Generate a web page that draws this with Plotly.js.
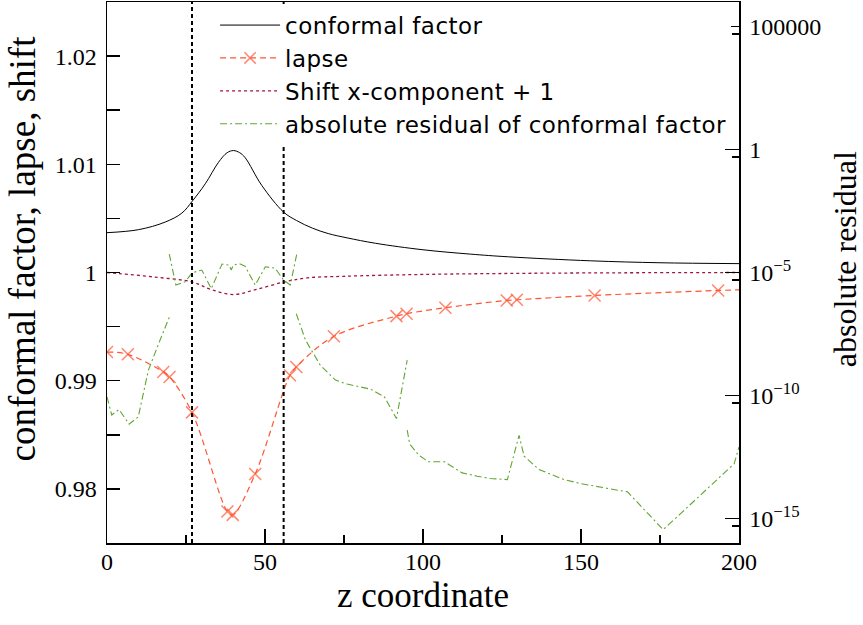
<!DOCTYPE html>
<html>
<head>
<meta charset="utf-8">
<script src="https://cdn.plot.ly/plotly-3.0.1.min.js"></script>
<style>html,body{margin:0;padding:0;background:#fff;}#chart{width:863px;height:625px;}.legendtext{letter-spacing:0.45px;}</style>
</head>
<body>
<div id="chart"></div>
<script>
// conformal factor
var zConf = [0, 10, 18.4, 23.7, 27, 31.1, 35.3, 38, 40, 42, 43.7, 49, 55.9, 60, 65, 70, 76, 85, 100, 115, 127, 153, 175, 200];
var conf  = [1.00368, 1.00396, 1.00466, 1.00549, 1.0066, 1.0082, 1.01019, 1.01107, 1.01127, 1.01107, 1.01062, 1.00804, 1.00558, 1.0048, 1.0041, 1.0036, 1.0032, 1.0027, 1.0021, 1.0017, 1.00145, 1.00108, 1.0009, 1.00082];

// lapse (marked points)
var zLapse = [0, 6.6, 17.8, 19.8, 26.9, 38.1, 39.8, 46.9, 57.9, 59.9, 71.8, 91.6, 94.8, 107.1, 126.5, 129.7, 154.3, 193.4, 200];
var lapse  = [0.99265, 0.99244, 0.99081, 0.99035, 0.98707, 0.97791, 0.97760, 0.98138, 0.99051, 0.99127, 0.99410, 0.99597, 0.99619, 0.99675, 0.99742, 0.99748, 0.99788, 0.99834, 0.99840];
var lapseMarked = [1,1,1,1,1,1,1,1,1,1,1,1,1,1,1,1,1,1,0];

// shift x-component + 1
var zShift = [0, 4, 15, 27, 33, 40, 47, 56, 63, 75, 100, 130, 160, 200];
var shift  = [1.0, 0.9999, 0.99958, 0.99912, 0.99842, 0.99796, 0.99842, 0.99912, 0.99949, 0.99965, 0.99982, 0.99992, 0.99997, 1.0];

// absolute residual of conformal factor (null = gap)
var zRes = [0, 1.5, 3.8, 7.0, 9.9, 13.1, 16.8, 20.0, null,
            19.7, 21.8, 24.7, 27.0, 30.0, 33.0, 36.4, 38.7, 39.3, 40.0, 41.8, 43.7, 46.9, 50.1, 53.2, 55.9, 58.0, 60.1, null,
            59.9, 62.8, 67.5, 72.3, 76.0, 83.4, 87.8, 91.6, 95.0, null,
            95.0, 95.8, 98.7, 101.8, 106.8, 112.4, 117.2, 121.2, 126.7, 130.4, 132.0, 136.7, 144.6, 149.9, 164.7, 176.0, 181.6, 198.5, 200];
var res  = [8.7e-11, 1.6e-11, 2.7e-11, 6.8e-12, 1.35e-11, 1.07e-9, 1.8e-8, 1.86e-7, null,
            5.6e-5, 3.1e-6, 4.2e-6, 9.8e-6, 1.26e-5, 2.2e-6, 2.2e-5, 2.0e-5, 1.26e-5, 2.0e-5, 2.3e-5, 1.8e-5, 3.1e-6, 1.7e-5, 1.5e-5, 4.9e-6, 3.1e-6, 6.0e-5, null,
            2.1e-7, 1.8e-8, 1.7e-9, 4.2e-10, 2.9e-10, 1.8e-10, 8.7e-11, 1.15e-11, 2.75e-9, null,
            3.9e-12, 1.05e-12, 3.7e-13, 2.0e-13, 2.0e-13, 7.1e-14, 5.2e-14, 4.2e-14, 3.8e-14, 2.4e-12, 3.4e-13, 9.8e-14, 3.8e-14, 2.6e-14, 1.2e-14, 3.5e-16, 1.6e-15, 1.7e-13, 8.1e-13];

// boundaries (vertical dashed lines)
var boundaries = [26.9, 55.9];

// ticks
var xTicks = [0, 50, 100, 150, 200];
var xMinor = [25, 75, 125, 175];
var yTicks = [0.98, 0.99, 1.0, 1.01, 1.02];
var yTickText = ['0.98', '0.99', '1', '1.01', '1.02'];
var y2Ticks = [1e-15, 1e-10, 1e-5, 1, 1e5];
var y2TickText = ['10<sup>\u221215</sup>', '10<sup>\u221210</sup>', '10<sup>\u22125</sup>', '1', '100000'];
var y2Minor = [5e-16, 5e-11, 5e-6, 0.5, 5e4];

var serif = '"Liberation Serif", "Times New Roman", "DejaVu Serif", serif';
var sans = '"DejaVu Sans", sans-serif';
var lapseColor = '#ff5533';

var traces = [
  {x: zConf, y: conf, name: 'conformal factor', mode: 'lines', type: 'scatter',
   line: {color: '#000000', width: 1, shape: 'spline'}},
  {x: zLapse, y: lapse, name: 'lapse', mode: 'lines+markers', type: 'scatter',
   line: {color: lapseColor, width: 1.2, dash: '6px,4px', shape: 'spline'},
   marker: {symbol: 'x-thin', size: lapseMarked.map(function(m){return m ? 12 : 0;}), color: lapseColor, line: {color: lapseColor, width: 1.5}}},
  {x: zShift, y: shift, name: 'Shift x-component + 1', mode: 'lines', type: 'scatter',
   line: {color: '#a0173e', width: 1.3, dash: 'dot', shape: 'spline'}},
  {x: zRes, y: res, name: 'absolute residual of conformal factor', mode: 'lines', type: 'scatter', yaxis: 'y2',
   connectgaps: false,
   line: {color: '#62a532', width: 1.1, dash: '7px,3px,2px,3px'}}
];

var shapes = boundaries.map(function(b){
  return {type: 'line', xref: 'x', yref: 'paper', x0: b, x1: b, y0: 0, y1: 1,
          line: {color: '#000', width: 2, dash: '4px,3px'}, layer: 'above'};
});

var layout = {
  width: 863, height: 625,
  margin: {l: 107, r: 124, t: 2, b: 82},
  paper_bgcolor: '#fff', plot_bgcolor: '#fff',
  font: {family: serif, color: '#000', size: 24},
  showlegend: true,
  legend: {x: 0.171, y: 0.997, xanchor: 'left', yanchor: 'top', bgcolor: '#fff', borderwidth: 0,
           font: {family: sans, size: 23, color: '#000'}, itemwidth: 60, tracegroupgap: 0},
  xaxis: {range: [0, 200], showgrid: false, zeroline: false, showline: true, linecolor: '#000', linewidth: 1.5, mirror: true,
          ticks: 'inside', ticklen: 14, tickwidth: 1.5, tickcolor: '#000', tickmode: 'array', tickvals: xTicks,
          minor: {tickmode: 'array', tickvals: xMinor, ticks: 'inside', ticklen: 8, tickwidth: 1.5, tickcolor: '#000', showgrid: false},
          tickfont: {family: serif, size: 24}, ticklabelstandoff: -3,
          title: {text: 'z coordinate', font: {family: serif, size: 35}, standoff: 8}},
  yaxis: {range: [0.975, 1.025], showgrid: false, zeroline: false, showline: true, linecolor: '#000', linewidth: 1.5, mirror: true,
          ticks: 'inside', ticklen: 13, tickwidth: 1.5, tickcolor: '#000', tickmode: 'array', tickvals: yTicks, ticktext: yTickText,
          minor: {dtick: 0.005, ticks: 'inside', ticklen: 13, tickwidth: 1.5, tickcolor: '#000', showgrid: false},
          tickfont: {family: serif, size: 24}, ticklabelstandoff: 4},
  yaxis2: {type: 'log', range: [-16, 6], overlaying: 'y', side: 'right', showgrid: false, zeroline: false,
           showline: true, linecolor: '#000', linewidth: 1.5,
           ticks: 'inside', ticklen: 14, tickwidth: 1.5, tickcolor: '#000', tickmode: 'array', tickvals: y2Ticks, ticktext: y2TickText,
           minor: {tickmode: 'array', tickvals: y2Minor, ticks: 'inside', ticklen: 7, tickwidth: 1.5, tickcolor: '#000', showgrid: false},
           tickfont: {family: serif, size: 24}, ticklabelstandoff: 4},
  annotations: [
    {text: 'conformal factor, lapse, shift', xref: 'paper', yref: 'paper', x: -0.134, y: 0.545, xanchor: 'center', yanchor: 'middle',
     textangle: -90, showarrow: false, font: {family: serif, size: 37, color: '#000'}},
    {text: 'absolute residual', xref: 'paper', yref: 'paper', x: 1.168, y: 0.525, xanchor: 'center', yanchor: 'middle',
     textangle: -90, showarrow: false, font: {family: serif, size: 32, color: '#000'}}
  ],
  shapes: shapes
};

Plotly.newPlot('chart', traces, layout, {staticPlot: true, displayModeBar: false});
</script>
</body>
</html>
